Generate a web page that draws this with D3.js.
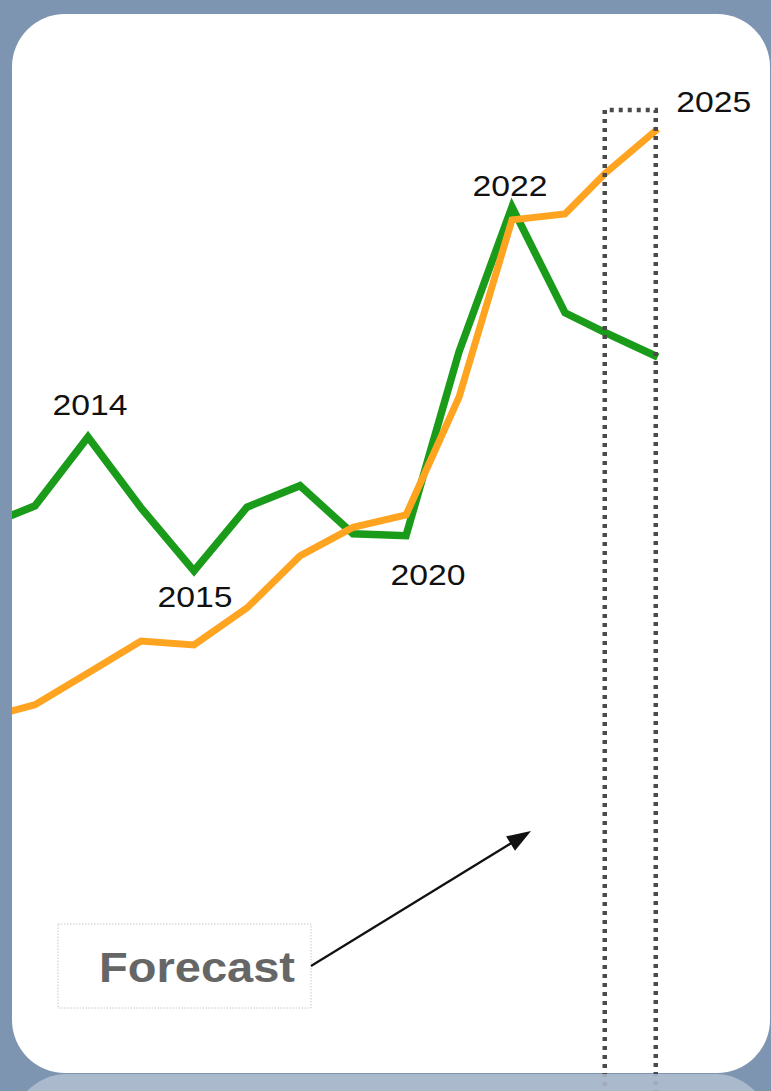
<!DOCTYPE html>
<html>
<head>
<meta charset="utf-8">
<script src="https://cdn.jsdelivr.net/npm/d3@7/dist/d3.min.js"></script>
<style>
  html, body { margin: 0; padding: 0; background: #7e95b2; }
  svg { display: block; }
</style>
</head>
<body>
<svg id="chart" width="771" height="1091"></svg>
<script>
// Time points (years; the last two are forecast periods)
const years = [2012, 2013, 2014, 2015, 2016, 2017, 2018, 2019, 2020, 2021, 2022, 2023, 2023.75, 2024.75];

// Index values for the two series
const greenValues  = [35.8, 39.1, 49.7, 38.8, 29.1, 38.9, 42.2, 34.8, 34.5, 62.8, 85.1, 68.8, 65.8, 62.0];
const orangeValues = [6.3, 8.5, 13.4, 18.3, 17.7, 23.4, 31.4, 35.8, 37.7, 55.8, 83.1, 84.0, 90.2, 97.1];

// Annotated points: text and the index of the point they belong to
const labelTexts  = ["2014", "2015", "2020", "2022", "2025"];
const labelSeries = ["green", "green", "green", "green", "orange"];
const labelIndex  = [2, 4, 8, 10, 13];

// Forecast window (in years)
const forecastStart = 2023.75;
const forecastEnd   = 2024.75;

const W = 771, H = 1091;
const svg = d3.select("#chart");

const card = { x: 12, y: 14, w: 758, h: 1059, r: 53 };

// Scales
const x = d3.scaleLinear().domain([2014, 2022]).range([88, 512]);
const y = d3.scaleLinear().domain([0, 100]).range([760, 110]);

// Background
svg.append("rect").attr("width", W).attr("height", H).attr("fill", "#7e95b2");

// Card
svg.append("rect")
  .attr("x", card.x).attr("y", card.y)
  .attr("width", card.w).attr("height", card.h)
  .attr("rx", card.r).attr("ry", card.r)
  .attr("fill", "#ffffff");

const defs = svg.append("defs");
defs.append("clipPath").attr("id", "cardClip")
  .append("rect")
  .attr("x", card.x).attr("y", card.y)
  .attr("width", card.w).attr("height", card.h)
  .attr("rx", card.r).attr("ry", card.r);

const plot = svg.append("g").attr("clip-path", "url(#cardClip)");

const line = d3.line()
  .x((d, i) => x(years[i]))
  .y(d => y(d));

plot.append("path")
  .datum(greenValues)
  .attr("d", line)
  .attr("fill", "none")
  .attr("stroke", "#1a9b1a")
  .attr("stroke-width", 7.5)
  .attr("stroke-linejoin", "miter");

plot.append("path")
  .datum(orangeValues)
  .attr("d", line)
  .attr("fill", "none")
  .attr("stroke", "#ffa420")
  .attr("stroke-width", 7)
  .attr("stroke-linejoin", "miter");

// Year annotations, placed relative to their point
const labelOffset = [
  { dx: 2,   dy: -22 },
  { dx: 1,   dy: 36 },
  { dx: 22,  dy: 49 },
  { dx: -2,  dy: -11 },
  { dx: 56,  dy: -17 }
];
const seriesOf = { green: greenValues, orange: orangeValues };

svg.append("g").selectAll("text")
  .data(labelTexts)
  .join("text")
  .attr("x", (d, i) => x(years[labelIndex[i]]) + labelOffset[i].dx)
  .attr("y", (d, i) => y(seriesOf[labelSeries[i]][labelIndex[i]]) + labelOffset[i].dy)
  .attr("text-anchor", "middle")
  .attr("font-family", "'Liberation Sans', Arial, sans-serif")
  .attr("font-size", 29)
  .attr("textLength", 75)
  .attr("lengthAdjust", "spacingAndGlyphs")
  .attr("fill", "#111111")
  .text(d => d);

// Forecast window outline
const fx0 = x(forecastStart), fx1 = x(forecastEnd) - 2;
const fTop = 110, fBottom = 1095;
svg.append("path")
  .attr("d", `M${fx0},${fBottom} L${fx0},${fTop} L${fx1},${fTop} L${fx1},${fBottom}`)
  .attr("fill", "none")
  .attr("stroke", "#4a4a4a")
  .attr("stroke-width", 4.5)
  .attr("stroke-dasharray", "4 5");

// "Forecast" callout box
const box = { x: 58, y: 924, w: 253, h: 84 };
svg.append("rect")
  .attr("x", box.x).attr("y", box.y)
  .attr("width", box.w).attr("height", box.h)
  .attr("fill", "#ffffff")
  .attr("stroke", "#c8c8c8")
  .attr("stroke-width", 1)
  .attr("stroke-dasharray", "1.5 1.5");

svg.append("text")
  .attr("x", 99).attr("y", 982)
  .attr("font-family", "'Liberation Sans', Arial, sans-serif")
  .attr("font-weight", "bold")
  .attr("font-size", 43)
  .attr("textLength", 196)
  .attr("lengthAdjust", "spacingAndGlyphs")
  .attr("fill", "#666666")
  .text("Forecast");

// Arrow from the callout
const a0 = [311, 966], a1 = [531, 831];
const ang = Math.atan2(a1[1] - a0[1], a1[0] - a0[0]);
const headLen = 24, headHalf = 8.5;
const ux = Math.cos(ang), uy = Math.sin(ang);
const base = [a1[0] - ux * headLen, a1[1] - uy * headLen];
svg.append("line")
  .attr("x1", a0[0]).attr("y1", a0[1])
  .attr("x2", base[0] + ux * 4).attr("y2", base[1] + uy * 4)
  .attr("stroke", "#111").attr("stroke-width", 2.2);
svg.append("path")
  .attr("d", `M${a1[0]},${a1[1]} L${base[0] - uy * headHalf},${base[1] + ux * headHalf} L${base[0] + uy * headHalf},${base[1] - ux * headHalf} Z`)
  .attr("fill", "#111");

// Lower panel edge peeking in at the bottom
svg.append("rect")
  .attr("x", 12).attr("y", 1074)
  .attr("width", 758).attr("height", 120)
  .attr("rx", 55).attr("ry", 55)
  .attr("fill", "#b4c1d2")
  .attr("fill-opacity", 0.82);
</script>
</body>
</html>
